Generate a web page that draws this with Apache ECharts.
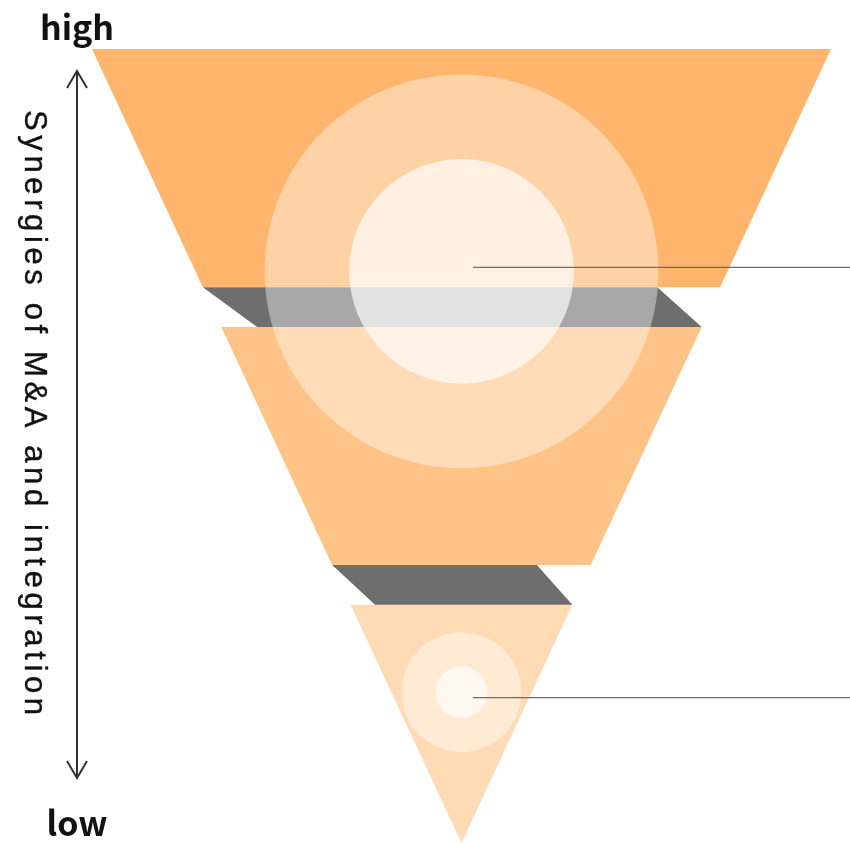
<!DOCTYPE html>
<html>
<head>
<meta charset="utf-8">
<style>
  html, body { margin: 0; padding: 0; background: #ffffff; }
  #chart { width: 850px; height: 844px; }
</style>
<script src="https://cdn.jsdelivr.net/npm/echarts@6/dist/echarts.min.js"></script>
</head>
<body>
<div id="chart"></div>
<script>
// Funnel layers as [top level, bottom level]; the funnel narrows linearly to 0 at the tip.
const layers = [[100, 70], [65, 35], [30, 0]];
// Folds between layers: [top level, bottom level, top-left x, top-right x, bottom-left x, bottom-right x]
const folds = [
  [70, 65, -0.70, 0.53, -0.553, 0.65],
  [35, 30, -0.35, 0.204, -0.234, 0.30]
];
// Highlight discs: [x, level, radius in x units]
const discs = [
  [0, 72, 0.533], [0, 72, 0.304],
  [0, 19, 0.162], [0, 19, 0.07]
];
// Leader lines: [start x, end x, level]
const leaders = [[0.031, 1.06, 72.5], [0.031, 1.06, 18.3]];

const axisTitle = 'Synergies of M&A and integration';
const highLabel = 'high';
const lowLabel = 'low';

const layerColors = ['#FFB56B', '#FFC387', '#FFDBB5'];
const foldColor = '#6E6E6E';
const discOpacity = [0.4, 0.667, 0.42, 0.667];

const chart = echarts.init(document.getElementById('chart'), null, { renderer: 'canvas' });

// Per-character layout of the rotated axis title, spread over a fixed span.
function titleChars() {
  const font = '31px "Liberation Sans"';
  const ctx = document.createElement('canvas').getContext('2d');
  ctx.font = font;
  const chars = Array.from(axisTitle);
  const widths = chars.map(c => ctx.measureText(c).width);
  const span = 605;
  const natural = widths.reduce((a, b) => a + b, 0);
  const gap = (span - natural) / (chars.length - 1);
  let x = 0;
  return chars.map((c, i) => {
    const el = {
      type: 'text',
      x: x,
      y: 0,
      style: {
        text: c,
        font: font,
        fill: '#111111',
        stroke: '#111111',
        lineWidth: 0.4,
        verticalAlign: 'middle',
        align: 'left'
      }
    };
    x += widths[i] + gap;
    return el;
  });
}

const arrowColor = '#333333';
const arrowX = 77, arrowTop = 71, arrowBottom = 778;

const option = {
  backgroundColor: '#ffffff',
  animation: false,
  grid: { left: 92, right: 19, top: 49, bottom: 1 },
  xAxis: { type: 'value', min: -1, max: 1, show: false },
  yAxis: { type: 'value', min: 0, max: 100, show: false },
  graphic: [
    {
      type: 'group',
      children: [
        { type: 'line', shape: { x1: arrowX, y1: arrowTop, x2: arrowX, y2: arrowBottom },
          style: { stroke: arrowColor, lineWidth: 2 } },
        { type: 'polyline', shape: { points: [[arrowX - 10, arrowTop + 17], [arrowX, arrowTop], [arrowX + 10, arrowTop + 17]] },
          style: { stroke: arrowColor, lineWidth: 2, fill: null } },
        { type: 'polyline', shape: { points: [[arrowX - 10, arrowBottom - 17], [arrowX, arrowBottom], [arrowX + 10, arrowBottom - 17]] },
          style: { stroke: arrowColor, lineWidth: 2, fill: null } }
      ]
    },
    {
      type: 'text', x: 77, y: 27,
      style: { text: highLabel, font: 'bold 34px "Noto Sans CJK JP"', fill: '#111111', align: 'center', verticalAlign: 'middle' }
    },
    {
      type: 'text', x: 77, y: 823,
      style: { text: lowLabel, font: 'bold 34px "Noto Sans CJK JP"', fill: '#111111', align: 'center', verticalAlign: 'middle' }
    },
    {
      type: 'group', x: 34, y: 110, rotation: -Math.PI / 2,
      children: titleChars()
    }
  ],
  series: [
    {
      type: 'custom',
      name: 'layers',
      data: layers,
      encode: { x: -1, y: [0, 1] },
      renderItem: function (params, api) {
        const t = api.value(0), b = api.value(1);
        const pts = [
          api.coord([-t / 100, t]), api.coord([t / 100, t]),
          api.coord([b / 100, b]), api.coord([-b / 100, b])
        ];
        return { type: 'polygon', shape: { points: pts },
          style: { fill: layerColors[params.dataIndex] } };
      },
      z: 1
    },
    {
      type: 'custom',
      name: 'folds',
      data: folds,
      encode: { x: [2, 3], y: [0, 1] },
      renderItem: function (params, api) {
        const t = api.value(0), b = api.value(1);
        const pts = [
          api.coord([api.value(2), t]), api.coord([api.value(3), t]),
          api.coord([api.value(5), b]), api.coord([api.value(4), b])
        ];
        return { type: 'polygon', shape: { points: pts }, style: { fill: foldColor } };
      },
      z: 2
    },
    {
      type: 'custom',
      name: 'discs',
      data: discs,
      encode: { x: 0, y: 1 },
      renderItem: function (params, api) {
        const c = api.coord([api.value(0), api.value(1)]);
        const r = api.size([api.value(2), 0])[0];
        return { type: 'circle', shape: { cx: c[0], cy: c[1], r: r },
          style: { fill: 'rgba(255,255,255,' + discOpacity[params.dataIndex] + ')' } };
      },
      z: 3
    },
    {
      type: 'custom',
      name: 'leaders',
      data: leaders,
      encode: { x: [0, 1], y: 2 },
      renderItem: function (params, api) {
        const a = api.coord([api.value(0), api.value(2)]);
        const b = api.coord([api.value(1), api.value(2)]);
        return { type: 'line', shape: { x1: a[0], y1: a[1], x2: b[0], y2: b[1] },
          style: { stroke: '#6d6d6d', lineWidth: 1.2 } };
      },
      z: 4
    }
  ]
};

chart.setOption(option);
</script>
</body>
</html>
